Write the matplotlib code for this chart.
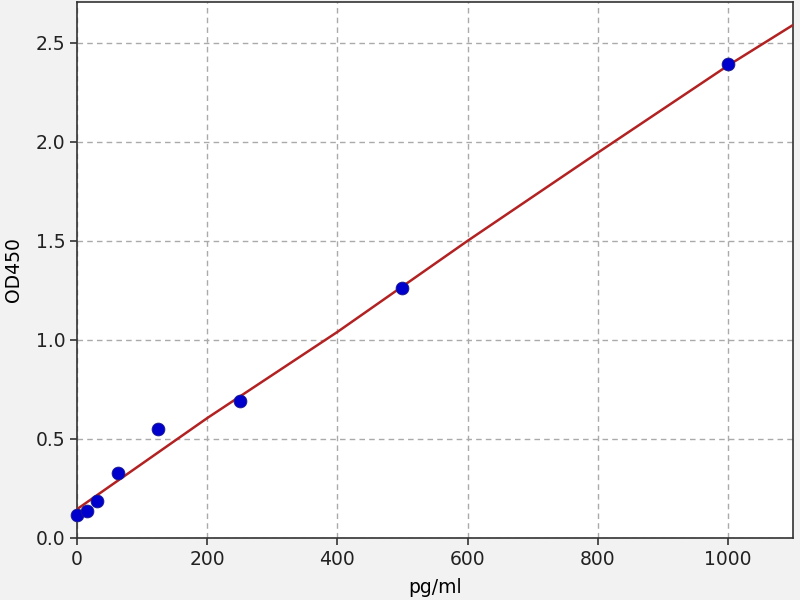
import matplotlib
matplotlib.use("Agg")
import matplotlib.pyplot as plt

# standard points (concentration pg/ml, OD450)
conc = [0, 15.6, 31.25, 62.5, 125, 250, 500, 1000]
od = [0.114, 0.134, 0.185, 0.327, 0.548, 0.689, 1.26, 2.394]

# fitted curve
fit_x = [0, 200, 400, 600, 800, 1000, 1100]
fit_y = [0.145, 0.605, 1.04, 1.50, 1.945, 2.385, 2.59]

xticks = [0, 200, 400, 600, 800, 1000]
yticks = [0.0, 0.5, 1.0, 1.5, 2.0, 2.5]

plt.rcParams['font.family'] = ['DejaVu Sans']
plt.rcParams['font.size'] = 13.5

fig = plt.figure(figsize=(8, 6), dpi=100, facecolor='#f2f2f2')
ax = fig.add_axes([0.0963, 0.1035, 0.895, 0.8935])
ax.set_facecolor('white')

ax.plot(fit_x, fit_y, color='#b22222', lw=1.8, zorder=3)
ax.scatter(conc, od, s=85, color='#0000cc', edgecolors='#1a1a8a', linewidths=0.6, zorder=4, clip_on=False)

ax.set_xlim(0, 1100)
ax.set_ylim(0, 2.707)
ax.set_xticks(xticks)
ax.set_yticks(yticks)
ax.set_yticklabels([f"{v:.1f}" for v in yticks])
ax.grid(True, linestyle='--', color='#aaaaaa', linewidth=1.0, dashes=(4, 3))
ax.set_axisbelow(True)
for s in ax.spines.values():
    s.set_color('#333333')
    s.set_linewidth(1.2)
ax.tick_params(direction='out', length=5, width=1.1, colors='#222222', labelsize=13.5)

ax.set_xlabel('pg/ml', fontsize=13.5, labelpad=7)
ax.set_ylabel('OD450', fontsize=13.5, labelpad=9)

fig.savefig('out.png', dpi=100, facecolor=fig.get_facecolor())
